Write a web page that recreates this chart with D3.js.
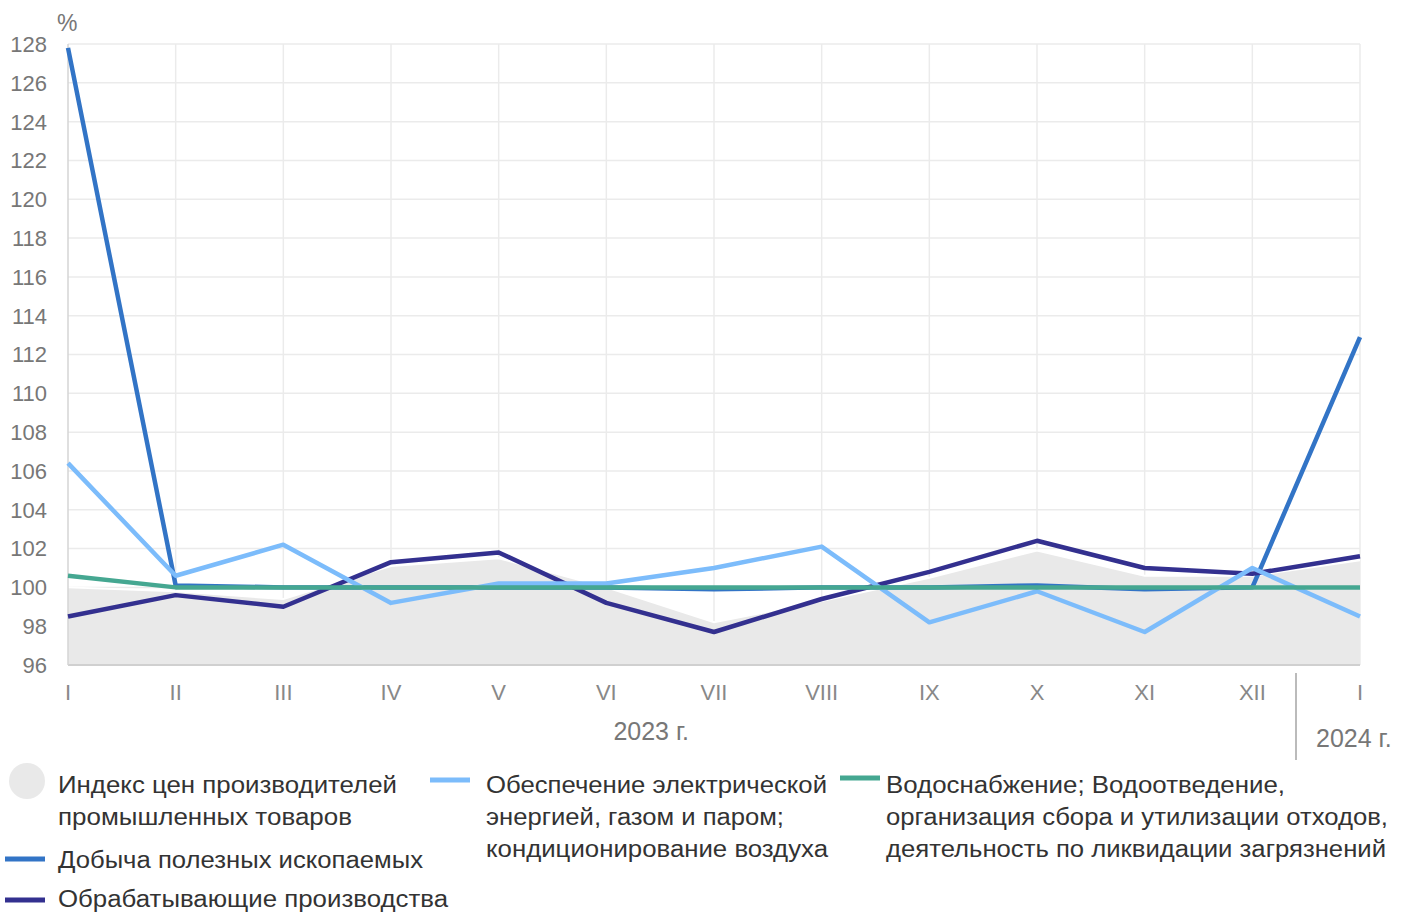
<!DOCTYPE html>
<html>
<head>
<meta charset="utf-8">
<script src="https://cdn.jsdelivr.net/npm/d3@7"></script>
<style>
  body { margin: 0; background: #fff; }
  text { font-family: "Liberation Sans", Arial, sans-serif; }
</style>
</head>
<body>
<div class="container"></div>
<script>
// chart data
var months = ["I", "II", "III", "IV", "V", "VI", "VII", "VIII", "IX", "X", "XI", "XII", "I"];
var ppi = [100.0, 99.8, 99.4, 101.1, 101.5, 100.0, 98.2, 99.3, 100.5, 101.9, 100.6, 100.6, 101.4];
var mining = [127.8, 100.1, 100.0, 100.0, 100.0, 100.0, 99.9, 100.0, 100.0, 100.1, 99.9, 100.0, 112.9];
var manufacturing = [98.5, 99.6, 99.0, 101.3, 101.8, 99.2, 97.7, 99.4, 100.8, 102.4, 101.0, 100.7, 101.6];
var electricity = [106.4, 100.6, 102.2, 99.2, 100.2, 100.2, 101.0, 102.1, 98.2, 99.8, 97.7, 101.0, 98.5];
var water = [100.6, 100.0, 100.0, 100.0, 100.0, 100.0, 100.0, 100.0, 100.0, 100.0, 100.0, 100.0, 100.0];
var yTicks = d3.range(96, 129, 2);
var years = ["2023 г.", "2024 г."];

var w = 1411;
var h = 912;

var svg = d3.select(".container")
    .append("svg")
    .attr("width", w)
    .attr("height", h);

var x = d3.scaleLinear()
    .domain([0, months.length - 1])
    .range([68, 1360]);

var y = d3.scaleLinear()
    .domain([96, 128])
    .range([665, 44]);

// grid
svg.append("g")
    .selectAll("line")
    .data(yTicks)
    .enter().append("line")
    .attr("x1", x(0)).attr("x2", x(12))
    .attr("y1", function(d) { return y(d); })
    .attr("y2", function(d) { return y(d); })
    .attr("stroke", "#ebebeb")
    .attr("stroke-width", 1.5);

svg.append("g")
    .selectAll("line")
    .data(d3.range(1, months.length))
    .enter().append("line")
    .attr("x1", function(d) { return x(d); })
    .attr("x2", function(d) { return x(d); })
    .attr("y1", y(128)).attr("y2", y(96))
    .attr("stroke", "#ebebeb")
    .attr("stroke-width", 1.5);

// PPI area
var area = d3.area()
    .x(function(d, i) { return x(i); })
    .y0(y(96))
    .y1(function(d) { return y(d); });

svg.append("path")
    .datum(ppi)
    .attr("fill", "#e9e9e9")
    .attr("d", area);

var line = d3.line()
    .x(function(d, i) { return x(i); })
    .y(function(d) { return y(d); });

svg.append("path")
    .datum(ppi)
    .attr("fill", "none")
    .attr("stroke", "#fff")
    .attr("stroke-width", 2)
    .attr("d", line);

// axis lines
svg.append("line")
    .attr("x1", x(0)).attr("x2", x(12))
    .attr("y1", y(96)).attr("y2", y(96))
    .attr("stroke", "#d0d0d0").attr("stroke-width", 2);
svg.append("line")
    .attr("x1", x(0)).attr("x2", x(0))
    .attr("y1", y(128)).attr("y2", y(96))
    .attr("stroke", "#d4d4d4").attr("stroke-width", 1.5);

// series lines
var series = [
    { values: mining, color: "#3274c6" },
    { values: manufacturing, color: "#33308f" },
    { values: electricity, color: "#7cbcfb" },
    { values: water, color: "#45a791" }
];

svg.selectAll(".series")
    .data(series)
    .enter().append("path")
    .attr("class", "series")
    .attr("fill", "none")
    .attr("stroke", function(d) { return d.color; })
    .attr("stroke-width", 4.5)
    .attr("stroke-linejoin", "round")
    .attr("d", function(d) { return line(d.values); });

// y tick labels
svg.selectAll(".ytick")
    .data(yTicks)
    .enter().append("text")
    .attr("class", "ytick")
    .attr("x", 47)
    .attr("y", function(d) { return y(d); })
    .attr("dy", "0.36em")
    .attr("text-anchor", "end")
    .attr("font-size", 22)
    .attr("fill", "#777")
    .text(function(d) { return d; });

svg.append("text")
    .attr("x", 57).attr("y", 31)
    .attr("font-size", 23)
    .attr("fill", "#777")
    .text("%");

// month labels
svg.selectAll(".xtick")
    .data(months)
    .enter().append("text")
    .attr("class", "xtick")
    .attr("x", function(d, i) { return x(i); })
    .attr("y", 700)
    .attr("text-anchor", "middle")
    .attr("font-size", 22)
    .attr("fill", "#888")
    .text(function(d) { return d; });

svg.append("text")
    .attr("x", (x(0) + x(11)) / 2 - 9).attr("y", 740)
    .attr("text-anchor", "middle")
    .attr("font-size", 25)
    .attr("fill", "#777")
    .text(years[0]);

svg.append("text")
    .attr("x", 1316).attr("y", 747)
    .attr("font-size", 25)
    .attr("fill", "#777")
    .text(years[1]);

svg.append("line")
    .attr("x1", 1296).attr("x2", 1296)
    .attr("y1", 673).attr("y2", 760)
    .attr("stroke", "#bbb").attr("stroke-width", 2);

// legend
var legendItems = [
    { lines: ["Индекс цен производителей", "промышленных товаров"], widths: [339, 294], color: "#e9e9e9", type: "circle", x: 8, tx: 58, y: 781, dy: 12 },
    { lines: ["Добыча полезных ископаемых"], widths: [365], color: "#3274c6", type: "line", x: 5, tx: 58, y: 859, dy: 9 },
    { lines: ["Обрабатывающие производства"], widths: [390], color: "#33308f", type: "line", x: 5, tx: 58, y: 900, dy: 7 },
    { lines: ["Обеспечение электрической", "энергией, газом и паром;", "кондиционирование воздуха"], widths: [341, 298, 342], color: "#7cbcfb", type: "line", x: 430, tx: 486, y: 780, dy: 13 },
    { lines: ["Водоснабжение; Водоотведение,", "организация сбора и утилизации отходов,", "деятельность по ликвидации загрязнений"], widths: [399, 502, 500], color: "#45a791", type: "line", x: 840, tx: 886, y: 778, dy: 15 }
];

var legend = svg.append("g").attr("class", "legend");

legendItems.forEach(function(item) {
    if (item.type === "circle") {
        legend.append("circle")
            .attr("cx", item.x + 19).attr("cy", item.y)
            .attr("r", 18)
            .attr("fill", item.color);
    } else {
        legend.append("line")
            .attr("x1", item.x).attr("x2", item.x + 40)
            .attr("y1", item.y).attr("y2", item.y)
            .attr("stroke", item.color)
            .attr("stroke-width", 5);
    }
    item.lines.forEach(function(t, k) {
        legend.append("text")
            .attr("x", item.tx)
            .attr("y", item.y + item.dy + k * 32)
            .attr("font-size", 23)
            .attr("fill", "#333")
            .attr("textLength", item.widths[k])
            .attr("lengthAdjust", "spacingAndGlyphs")
            .text(t);
    });
});
</script>
</body>
</html>
